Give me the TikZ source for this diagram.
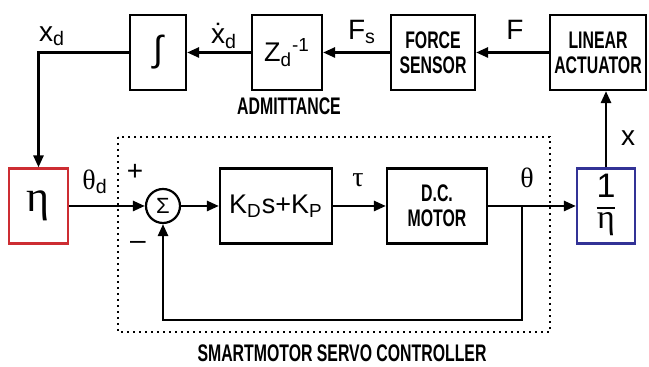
\documentclass[tikz,border=0pt]{standalone}
\usepackage{fontspec}
\setmainfont{Liberation Sans}
\newfontfamily\blkfont[FakeStretch=0.66]{Liberation Sans}
\newfontfamily\grk{Liberation Serif}
\usetikzlibrary{arrows.meta}
\definecolor{etared}{RGB}{205,45,50}
\definecolor{invblue}{RGB}{50,50,150}
\tikzset{
  blockbox/.style={draw=black, line width=1.1pt, minimum height=37.5pt, inner sep=0pt, font=\fontsize{13.5}{15}\selectfont},
  capsbox/.style={blockbox, align=center, font=\blkfont\bfseries\fontsize{12}{12.5}\selectfont},
  sumnode/.style={circle, draw=black, line width=1.1pt, minimum size=17pt, inner sep=0pt},
  sig/.style={font=\fontsize{14}{16}\selectfont, inner sep=0pt},
  caption/.style={font=\blkfont\bfseries\fontsize{12}{13}\selectfont, inner sep=0pt},
  conn/.style={line width=1.3pt, -{Triangle[length=6pt,width=5pt]}},
}

\begin{document}
\begin{tikzpicture}[x=0.5pt,y=-0.5pt]
\useasboundingbox (0,0) rectangle (649,367);
% admittance path
\node[blockbox, minimum width=28pt] (intg) at (158,52.5) {\fontsize{18}{20}\selectfont ∫};
\node[blockbox, minimum width=35pt] (admit) at (287,52.5) {Z\textsubscript{d}\textsuperscript{-1}};
\node[capsbox, minimum width=42pt] (fsens) at (433,52.5) {FORCE\\SENSOR};
\node[capsbox, minimum width=48pt] (lact) at (598,52.5) {LINEAR\\ACTUATOR};
\node[caption] (admitlab) at (289,106) {ADMITTANCE};
% servo loop
\draw[dotted, line width=1pt] (118,137) rectangle (550,332);
\node[blockbox, draw=etared, minimum width=29.5pt] (gain) at (38.5,206) {\grk\fontsize{22}{24}\selectfont η};
\node[sumnode] (sum) at (163,206) {\fontsize{11}{12}\selectfont Σ};
\node[blockbox, minimum width=56pt] (ctrl) at (276,206) {K\textsubscript{D}s+K\textsubscript{P}};
\node[capsbox, minimum width=50pt] (motor) at (437,206) {D.C.\\MOTOR};
\node[blockbox, draw=invblue, minimum width=29pt] (inv) at (606,206) {\fontsize{17}{17}\selectfont\setlength\arrayrulewidth{1pt}%
  \renewcommand\arraystretch{0.85}\begin{tabular}{@{}c@{}}1\\\hline\grk η\end{tabular}};
\node[caption] (servolab) at (342,353) {SMARTMOTOR SERVO CONTROLLER};
\coordinate (tap) at (522,206);
% connectors
\draw[conn] (lact) -- (fsens);
\draw[conn] (fsens) -- (admit);
\draw[conn] (admit) -- (intg);
\draw[conn] (intg.west) -| (gain.north);
\draw[conn] (gain) -- (sum);
\draw[conn] (sum) -- (ctrl);
\draw[conn] (ctrl) -- (motor);
\draw[conn] (motor) -- (inv);
\draw[conn] (tap) -- ++(0,114) -| (sum.south);
\draw[conn] (inv.north) -- (inv.north |- lact.south);
% signal labels
\node[sig] (xdlab) at (52,36) {x\textsubscript{d}};
\node[sig] (xdotlab) at (224,36) {\.x\textsubscript{d}};
\node[sig] (fslab) at (362,32) {F\textsubscript{s}};
\node[sig] (flab) at (515,30) {F};
\node[sig] (xlab) at (628,138) {x};
\node[sig] (thdlab) at (95,182) {{\grk θ}\textsubscript{d}};
\node[sig] (plus) at (135,172) {+};
\node[sig] (minus) at (138,245) {–};
\node[sig] (taulab) at (358,180) {\grk τ};
\node[sig] (thlab) at (527,178) {\grk θ};
\end{tikzpicture}
\end{document}
